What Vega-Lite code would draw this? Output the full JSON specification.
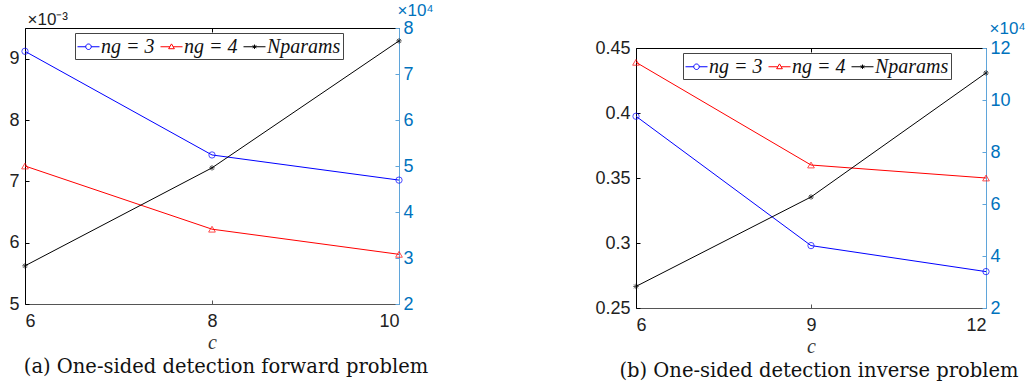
{
  "$schema": "https://vega.github.io/schema/vega-lite/v6.json",
  "padding": {"left": 8, "top": 1, "right": 5, "bottom": 5},
  "background": "white",
  "config": {
    "view": {"stroke": null},
    "font": "Liberation Sans",
    "axis": {"grid": false, "labelFont": "Liberation Sans", "titleFont": "Liberation Sans", "labelFontSize": 18, "labelColor": "#222", "tickSize": -4, "labelPadding": 12, "domainWidth": 1, "tickWidth": 1, "titleFontWeight": "normal"}
  },
  "datasets": {
    "a": [
      {"c": 6, "series": "ng = 3", "v": 0.00912},
      {"c": 8, "series": "ng = 3", "v": 0.00743},
      {"c": 10, "series": "ng = 3", "v": 0.00702},
      {"c": 6, "series": "ng = 4", "v": 0.00725},
      {"c": 8, "series": "ng = 4", "v": 0.00622},
      {"c": 10, "series": "ng = 4", "v": 0.00581},
      {"c": 6, "series": "Nparams", "v": 28300},
      {"c": 8, "series": "Nparams", "v": 49600},
      {"c": 10, "series": "Nparams", "v": 77200}
    ],
    "b": [
      {"c": 6, "series": "ng = 3", "v": 0.3975},
      {"c": 9, "series": "ng = 3", "v": 0.298},
      {"c": 12, "series": "ng = 3", "v": 0.278},
      {"c": 6, "series": "ng = 4", "v": 0.439},
      {"c": 9, "series": "ng = 4", "v": 0.36},
      {"c": 12, "series": "ng = 4", "v": 0.35},
      {"c": 6, "series": "Nparams", "v": 28300},
      {"c": 9, "series": "Nparams", "v": 62700},
      {"c": 12, "series": "Nparams", "v": 110400}
    ]
  },
  "spacing": 160,
  "resolve": {"scale": {"color": "independent"}, "legend": {"color": "independent"}},
  "hconcat": [
    {
      "width": 374,
      "height": 276,
      "data": {"name": "a"},
      "title": {"text": "(a) One-sided detection forward problem", "orient": "bottom", "font": "DejaVu Serif", "fontSize": 19.5, "fontWeight": "normal", "color": "#111", "anchor": "middle", "dx": 14, "offset": 6},
      "resolve": {"scale": {"y": "independent"}, "axis": {"x": "independent"}},
      "layer": [
        {
          "transform": [{"filter": "datum.series != 'Nparams'"}],
          "encoding": {
            "x": {"field": "c", "type": "quantitative", "scale": {"domain": [6, 10], "nice": false, "zero": false},
                  "axis": {"values": [6, 8, 10], "domainColor": "#555", "tickColor": "#555", "title": "c", "titleFont": "Liberation Serif", "titleFontStyle": "italic", "titleFontSize": 20, "titleColor": "#333", "titlePadding": 2}},
            "y": {"field": "v", "type": "quantitative", "scale": {"domain": [0.005, 0.0095], "nice": false, "zero": false},
                  "axis": {"orient": "left", "values": [0.005, 0.006, 0.007, 0.008, 0.009], "labelExpr": "format(datum.value*1000, '.0f')", "domainColor": "black", "tickColor": "black", "labelPadding": 10,
                           "title": "×10⁻³", "titleAngle": 0, "titleAlign": "left", "titleBaseline": "alphabetic", "titleX": 2, "titleY": -4, "titleFontSize": 17, "titleColor": "#222"}},
            "color": {"field": "series", "type": "nominal", "scale": {"domain": ["ng = 3", "ng = 4", "Nparams"], "range": ["#0000ff", "#ff0000", "#000000"]},
                      "legend": {"orient": "none", "legendX": 50, "legendY": 5, "direction": "horizontal", "columns": 3, "title": null,
                                 "strokeColor": "#444", "fillColor": "white", "padding": 2, "columnPadding": 3, "labelOffset": 1, "symbolSize": 484,
                                 "labelFont": "Liberation Serif", "labelFontStyle": "italic", "labelFontSize": 20, "labelColor": "#111",
                                 "encode": {"symbols": {"update": {
                                   "shape": {"signal": "datum.value == 'ng = 3' ? 'M-1,0L-0.25,0M0.25,0L1,0M-0.25,0A0.25,0.25 0 1,0 0.25,0A0.25,0.25 0 1,0 -0.25,0' : datum.value == 'ng = 4' ? 'M-1,0L-0.15,0M0.15,0L1,0M0,-0.26L0.26,0.18L-0.26,0.18Z' : 'M-1,0L1,0M0,-0.2L0,0.2M-0.17,-0.1L0.17,0.1M-0.17,0.1L0.17,-0.1'"},
                                   "size": {"value": 484},
                                   "fill": {"value": "transparent"},
                                   "stroke": {"signal": "datum.value == 'ng = 3' ? '#0000ff' : datum.value == 'ng = 4' ? '#ff0000' : '#000000'"},
                                   "strokeWidth": {"value": 1}}}}}}
          },
          "layer": [
            {"mark": {"type": "line", "strokeWidth": 1}},
            {"transform": [{"filter": "datum.series == 'ng = 3'"}], "mark": {"type": "point", "shape": "circle", "filled": false, "size": 40, "strokeWidth": 1}},
            {"transform": [{"filter": "datum.series == 'ng = 4'"}], "mark": {"type": "point", "shape": "triangle-up", "filled": false, "size": 45, "strokeWidth": 1}}
          ]
        },
        {
          "transform": [{"filter": "datum.series == 'Nparams'"}],
          "encoding": {
            "x": {"field": "c", "type": "quantitative", "scale": {"domain": [6, 10], "nice": false, "zero": false},
                  "axis": {"orient": "top", "values": [6, 8, 10], "labels": false, "title": null, "domainColor": "black", "tickColor": "black"}},
            "y": {"field": "v", "type": "quantitative", "scale": {"domain": [20000, 80000], "nice": false, "zero": false},
                  "axis": {"orient": "right", "values": [20000, 30000, 40000, 50000, 60000, 70000, 80000], "labelExpr": "format(datum.value/10000, '.0f')", "labelColor": "#0072BD", "domainColor": "#5fa5da", "tickColor": "#5fa5da", "labelPadding": 8,
                           "title": "×10⁴", "titleAngle": 0, "titleAlign": "left", "titleBaseline": "alphabetic", "titleX": -2, "titleY": -13, "titleFontSize": 17, "titleColor": "#0072BD"}},
            "color": {"field": "series", "type": "nominal", "scale": {"domain": ["ng = 3", "ng = 4", "Nparams"], "range": ["#0000ff", "#ff0000", "#000000"]}}
          },
          "layer": [
            {"mark": {"type": "line", "strokeWidth": 1}},
            {"mark": {"type": "point", "shape": "M0,-1L0,1M-1,0L1,0M-0.7,-0.7L0.7,0.7M-0.7,0.7L0.7,-0.7", "filled": false, "size": 30, "strokeWidth": 1}}
          ]
        }
      ]
    },
    {
      "width": 350,
      "height": 280,
      "data": {"name": "b"},
      "title": {"text": "(b) One-sided detection inverse problem", "orient": "bottom", "font": "DejaVu Serif", "fontSize": 19.5, "fontWeight": "normal", "color": "#111", "anchor": "middle", "dx": 8, "offset": 6},
      "resolve": {"scale": {"y": "independent"}, "axis": {"x": "independent"}},
      "layer": [
        {
          "transform": [{"filter": "datum.series != 'Nparams'"}],
          "encoding": {
            "x": {"field": "c", "type": "quantitative", "scale": {"domain": [6, 12], "nice": false, "zero": false},
                  "axis": {"values": [6, 9, 12], "domainColor": "#555", "tickColor": "#555", "title": "c", "titleFont": "Liberation Serif", "titleFontStyle": "italic", "titleFontSize": 20, "titleColor": "#333", "titlePadding": 2}},
            "y": {"field": "v", "type": "quantitative", "scale": {"domain": [0.25, 0.45], "nice": false, "zero": false, "range": [280, 20]},
                  "axis": {"orient": "left", "values": [0.25, 0.3, 0.35, 0.4, 0.45], "labelExpr": "format(datum.value, '~g')", "domainColor": "black", "tickColor": "black", "labelPadding": 10, "title": null}},
            "color": {"field": "series", "type": "nominal", "scale": {"domain": ["ng = 3", "ng = 4", "Nparams"], "range": ["#0000ff", "#ff0000", "#000000"]},
                      "legend": {"orient": "none", "legendX": 47, "legendY": 25, "direction": "horizontal", "columns": 3, "title": null,
                                 "strokeColor": "#444", "fillColor": "white", "padding": 2, "columnPadding": 3, "labelOffset": 1, "symbolSize": 484,
                                 "labelFont": "Liberation Serif", "labelFontStyle": "italic", "labelFontSize": 20, "labelColor": "#111",
                                 "encode": {"symbols": {"update": {
                                   "shape": {"signal": "datum.value == 'ng = 3' ? 'M-1,0L-0.25,0M0.25,0L1,0M-0.25,0A0.25,0.25 0 1,0 0.25,0A0.25,0.25 0 1,0 -0.25,0' : datum.value == 'ng = 4' ? 'M-1,0L-0.15,0M0.15,0L1,0M0,-0.26L0.26,0.18L-0.26,0.18Z' : 'M-1,0L1,0M0,-0.2L0,0.2M-0.17,-0.1L0.17,0.1M-0.17,0.1L0.17,-0.1'"},
                                   "size": {"value": 484},
                                   "fill": {"value": "transparent"},
                                   "stroke": {"signal": "datum.value == 'ng = 3' ? '#0000ff' : datum.value == 'ng = 4' ? '#ff0000' : '#000000'"},
                                   "strokeWidth": {"value": 1}}}}}}
          },
          "layer": [
            {"mark": {"type": "line", "strokeWidth": 1}},
            {"transform": [{"filter": "datum.series == 'ng = 3'"}], "mark": {"type": "point", "shape": "circle", "filled": false, "size": 40, "strokeWidth": 1}},
            {"transform": [{"filter": "datum.series == 'ng = 4'"}], "mark": {"type": "point", "shape": "triangle-up", "filled": false, "size": 45, "strokeWidth": 1}}
          ]
        },
        {
          "transform": [{"filter": "datum.series == 'Nparams'"}],
          "encoding": {
            "x": {"field": "c", "type": "quantitative", "scale": {"domain": [6, 12], "nice": false, "zero": false},
                  "axis": {"orient": "top", "offset": -20, "values": [6, 9, 12], "labels": false, "title": null, "domainColor": "black", "tickColor": "black"}},
            "y": {"field": "v", "type": "quantitative", "scale": {"domain": [20000, 120000], "nice": false, "zero": false, "range": [280, 20]},
                  "axis": {"orient": "right", "values": [20000, 40000, 60000, 80000, 100000, 120000], "labelExpr": "format(datum.value/10000, '.0f')", "labelColor": "#0072BD", "domainColor": "#5fa5da", "tickColor": "#5fa5da", "labelPadding": 8,
                           "title": "×10⁴", "titleAngle": 0, "titleAlign": "left", "titleBaseline": "alphabetic", "titleX": 3, "titleY": 5, "titleFontSize": 17, "titleColor": "#0072BD"}},
            "color": {"field": "series", "type": "nominal", "scale": {"domain": ["ng = 3", "ng = 4", "Nparams"], "range": ["#0000ff", "#ff0000", "#000000"]}}
          },
          "layer": [
            {"mark": {"type": "line", "strokeWidth": 1}},
            {"mark": {"type": "point", "shape": "M0,-1L0,1M-1,0L1,0M-0.7,-0.7L0.7,0.7M-0.7,0.7L0.7,-0.7", "filled": false, "size": 30, "strokeWidth": 1}}
          ]
        }
      ]
    }
  ]
}
